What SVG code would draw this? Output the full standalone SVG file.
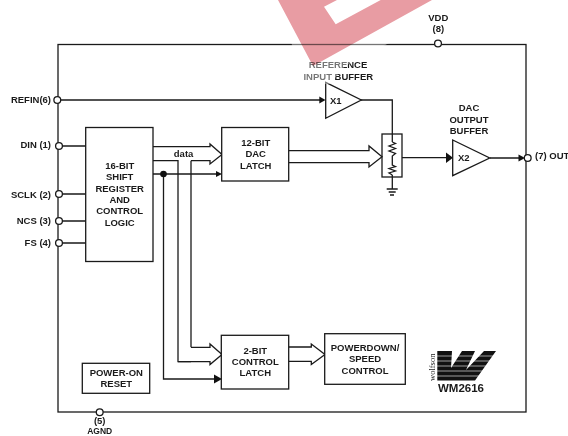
<svg xmlns="http://www.w3.org/2000/svg" width="568" height="436" viewBox="0 0 568 436">
<style>
text{font-family:"Liberation Sans",Arial,sans-serif;font-size:9.500px;font-weight:bold;fill:#1a1a1a}
.m{text-anchor:middle}
.e{text-anchor:end}
.l{fill:none;stroke:#1a1a1a;stroke-width:1.300}
.b{fill:#fff;stroke:#1a1a1a;stroke-width:1.300}
.p{fill:#fff;stroke:#1a1a1a;stroke-width:1.300}
.a{fill:#111}
</style>
<rect id="chip-outline" class="l" x="58" y="44.500" width="468" height="367.500"/>
<g id="connectors">
<path class="l" d="M60 100H320M361 100H392.300V134"/>
<path class="l" d="M62 146H86M62 194H86M62 221H86M62 243H86"/>
<path class="l" d="M153 174H217M163.500 174V379H215"/>
<path class="p" d="M153 146.700H210V144L222 154.500L210 164V160.700H191"/>
<path class="l" d="M153 160.700H178V361.700H191"/>
<path class="l" d="M191 160.700V347.300"/>
<path class="p" d="M191 347.300H210V344L222 354.500L210 364.500V361.700H178"/>
<path class="p" d="M289 347H311.300V344L325 354.500L311.300 364.500V361.300H289"/>
<path class="p" d="M289 150.700H369V146L382 156.700L369 167V162.700H289"/>
<path class="l" d="M402 157.700H447M490 158H519"/>
<path class="l" d="M392.300 134V142M392.300 175V189"/>
<path class="l" d="M392.300 142L395.500 143.500L389 146L395.500 148.500L389 151L395.500 153.500L392.300 156V165L395.500 166.500L389 168.500L395.500 171L389 173L392.300 175"/>
<path class="l" d="M386.700 189H397.700M388.700 192H395.700M390 195H394"/>
<path class="a" d="M216 171L222 174L216 177Z"/>
<path class="a" d="M214 374.500L222 379L214 383.500Z"/>
<path class="a" d="M319.300 96.500L325.500 100L319.300 103.500Z"/>
<path class="a" d="M446 152.500L453 157.700L446 163Z"/>
<path class="a" d="M518.500 154.500L525 158L518.500 161.500Z"/>
<circle class="a" cx="163.500" cy="174" r="3.300"/>
</g>
<g id="refin"><circle class="b" cx="57.300" cy="100" r="3.400"/><text class="e" x="51" y="102.700">REFIN(6)</text></g>
<g id="din"><circle class="b" cx="59" cy="146" r="3.400"/><text class="e" x="51" y="148.300">DIN (1)</text></g>
<g id="sclk"><circle class="b" cx="59" cy="194" r="3.400"/><text class="e" x="51" y="197.500">SCLK (2)</text></g>
<g id="ncs"><circle class="b" cx="59" cy="221" r="3.400"/><text class="e" x="51" y="224">NCS (3)</text></g>
<g id="fs"><circle class="b" cx="59" cy="243" r="3.400"/><text class="e" x="51" y="246">FS (4)</text></g>
<g id="vdd"><circle class="b" cx="438" cy="43.500" r="3.400"/><text class="m" x="438.300" y="20.700">VDD</text><text class="m" x="438.300" y="32.300">(8)</text></g>
<g id="agnd"><circle class="b" cx="99.700" cy="412.300" r="3.400"/><text class="m" x="99.700" y="424.300">(5)</text><text class="m" x="99.700" y="434" style="font-size:8.500px">AGND</text></g>
<g id="out"><circle class="b" cx="527.700" cy="158" r="3.400"/><text x="535" y="159">(7) OUT</text></g>
<g id="shift-register"><rect class="b" x="85.700" y="127.500" width="67.300" height="134"/><text class="m" x="119.700" y="169">16-BIT</text><text class="m" x="119.700" y="180">SHIFT</text><text class="m" x="119.700" y="191.700">REGISTER</text><text class="m" x="119.700" y="202.700">AND</text><text class="m" x="119.700" y="213.700">CONTROL</text><text class="m" x="119.700" y="226">LOGIC</text></g>
<g id="dac-latch"><rect class="b" x="221.700" y="127.500" width="67" height="53.500"/><text class="m" x="255.700" y="146">12-BIT</text><text class="m" x="255.700" y="157.300">DAC</text><text class="m" x="255.700" y="169">LATCH</text></g>
<g id="control-latch"><rect class="b" x="221.300" y="335.300" width="67.400" height="53.700"/><text class="m" x="255.300" y="354">2-BIT</text><text class="m" x="255.300" y="365.300">CONTROL</text><text class="m" x="255.300" y="375.700">LATCH</text></g>
<g id="powerdown"><rect class="b" x="324.700" y="333.700" width="80.600" height="50.600"/><text class="m" x="365" y="351">POWERDOWN/</text><text class="m" x="365" y="362">SPEED</text><text class="m" x="365" y="374">CONTROL</text></g>
<g id="power-on-reset"><rect class="b" x="82.300" y="363.300" width="67.400" height="30"/><text class="m" x="116.300" y="375.700">POWER-ON</text><text class="m" x="116.300" y="387">RESET</text></g>
<g id="x1"><path class="b" d="M325.700 82.300L361.300 100L325.700 118.300Z"/><text x="330" y="103.700">X1</text><text class="m" x="338" y="67.700">REFERENCE</text><text class="m" x="338.300" y="80">INPUT BUFFER</text></g>
<g id="x2"><path class="b" d="M452.700 140L489.700 158L452.700 175.700Z"/><text x="458" y="161">X2</text><text class="m" x="469" y="111">DAC</text><text class="m" x="469" y="123">OUTPUT</text><text class="m" x="469" y="134">BUFFER</text></g>
<g id="dac-resistor"><rect x="382" y="134" width="20" height="43" fill="none" stroke="#1a1a1a" stroke-width="1.300"/></g>
<g id="data-label"><text class="m" x="183.600" y="157">data</text></g>
<g id="logo">
<path d="M437.300 351H452L451 368L462 351H475L466 370L484 351H496L475 380.500H437.300Z" fill="#111"/>
<path d="M437 356H496M437 361H496M437 366H496M437 371H496M437 376H496" stroke="#fff" stroke-width=".6"/>
<text transform="translate(435 381) rotate(-90)" style="font-family:'Liberation Serif',serif;font-size:8.500px;font-weight:normal">wolfson</text>
<text class="m" x="461" y="392" style="font-size:11.500px">WM2616</text>
</g>
<g id="watermark">
<path d="M291 42L305 84H330L345 66L391 42Z" fill="#fff" fill-opacity=".4"/>
<path d="M278 0L313 66L432 0ZM337 0L324 6.700L335.700 24.300L380.700 0Z" fill="#e89ca3" fill-rule="evenodd" style="mix-blend-mode:multiply"/>
</g>
</svg>
